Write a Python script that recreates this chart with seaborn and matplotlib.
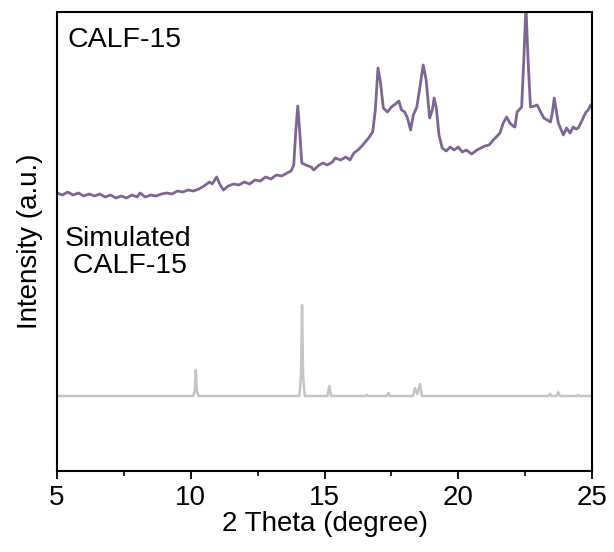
import matplotlib
matplotlib.use("Agg")
import matplotlib.pyplot as plt
from matplotlib.ticker import MultipleLocator
import seaborn as sns
import pandas as pd

# Experimental CALF-15 pattern (2theta in degree, intensity in a.u.)
exp_x = [5.0, 5.2, 5.4, 5.6, 5.8, 6.0, 6.2, 6.4, 6.6, 6.8, 7.0, 7.2, 7.4, 7.6, 7.8,
         8.0, 8.1, 8.3, 8.5, 8.7, 8.9, 9.1, 9.3, 9.5, 9.7, 9.9, 10.1, 10.3, 10.5, 10.7,
         10.8, 10.97, 11.1, 11.22, 11.4, 11.6, 11.8, 12.0, 12.2, 12.4, 12.6, 12.8, 13.0,
         13.2, 13.4, 13.6, 13.75, 13.85, 13.93, 14.0, 14.07, 14.15, 14.3, 14.5, 14.6,
         14.8, 14.95, 15.1, 15.3, 15.4, 15.6, 15.8, 15.95, 16.1, 16.25, 16.4, 16.55,
         16.65, 16.8, 16.9, 17.0, 17.08, 17.2, 17.35, 17.5, 17.65, 17.78, 17.88, 18.0,
         18.1, 18.22, 18.32, 18.45, 18.58, 18.69, 18.8, 18.93, 19.03, 19.1, 19.18, 19.28,
         19.4, 19.55, 19.7, 19.85, 20.0, 20.15, 20.3, 20.5, 20.7, 20.85, 21.0, 21.15,
         21.31, 21.45, 21.56, 21.68, 21.81, 21.93, 22.05, 22.12, 22.2, 22.37, 22.45,
         22.53, 22.61, 22.7, 22.85, 22.95, 23.08, 23.2, 23.32, 23.45, 23.52, 23.59,
         23.66, 23.74, 23.85, 23.93, 24.05, 24.18, 24.3, 24.4, 24.49, 24.6, 24.7, 24.78,
         24.86, 24.95, 25.0]
exp_y = [278, 276, 279, 276, 278, 275, 277, 275, 277, 274, 276, 273, 275, 273, 276,
         274, 278, 274, 276, 275, 277, 278, 277, 280, 279, 281, 280, 282, 285, 289,
         287, 294, 286, 281, 285, 287, 286, 289, 287, 291, 290, 294, 292,
         296, 295, 298, 300, 306, 341, 365, 341, 308, 306, 304, 301,
         306, 308, 306, 309, 313, 311, 314, 311, 318, 321, 325, 330,
         333, 339, 361, 403, 391, 363, 359, 364, 367, 370, 361, 359,
         353, 341, 356, 364, 386, 406, 391, 353, 361, 373, 363, 336,
         323, 320, 324, 321, 324, 319, 321, 317, 321, 323, 325, 326,
         331, 335, 338, 348, 354, 348, 345, 344, 359, 364, 411,
         466, 411, 364, 365, 366, 359, 353, 351, 349, 359, 373,
         361, 348, 341, 336, 343, 338, 344, 342, 343, 349, 355, 359,
         361, 366, 367]

# Simulated CALF-15 pattern
sim_x = [5.0, 10.09, 10.15, 10.19, 10.23, 10.29, 14.06, 14.12, 14.16, 14.20, 14.26,
         15.11, 15.18, 15.25, 16.53, 16.58, 16.63, 17.33, 17.39, 17.45, 18.31, 18.38,
         18.47, 18.57, 18.64, 23.37, 23.43, 23.49, 23.67, 23.74, 23.80, 24.43, 24.48,
         24.53, 25.0]
sim_y = [75, 75, 80, 101, 80, 75, 75, 95, 166, 95, 75,
         75, 85, 75, 75, 76, 75, 75, 78, 75, 75, 83,
         77, 87, 75, 75, 77, 75, 75, 79, 75, 75, 76,
         75, 75]

xticks = [5, 10, 15, 20, 25]

sns.set_theme(style="ticks")
plt.rcParams['font.family'] = ['Liberation Sans', 'DejaVu Sans']
plt.rcParams['text.color'] = 'black'
plt.rcParams['axes.labelcolor'] = 'black'
plt.rcParams['xtick.color'] = 'black'
plt.rcParams['ytick.color'] = 'black'

fig = plt.figure(figsize=(6.14, 5.52), dpi=100)
ax = fig.add_axes([57/614, 1 - 471/552, 535/614, 459/552])

exp_df = pd.DataFrame({"x": exp_x, "y": exp_y})
sim_df = pd.DataFrame({"x": sim_x, "y": sim_y})

sns.lineplot(data=sim_df, x="x", y="y", ax=ax, color="#c4c4c4", lw=1.8,
             estimator=None, sort=False)
sns.lineplot(data=exp_df, x="x", y="y", ax=ax, color="#7d6694", lw=2.0,
             estimator=None, sort=False)

ax.set_xlim(5, 25)
ax.set_ylim(0, 459)
ax.set_xticks(xticks)
ax.set_xticklabels([str(t) for t in xticks])
ax.xaxis.set_minor_locator(MultipleLocator(2.5))
ax.set_yticks([])
ax.tick_params(axis='x', which='major', direction='out', length=6, width=1.3,
               labelsize=20, pad=4, colors='black')
ax.tick_params(axis='x', which='minor', direction='out', length=3.5, width=1.2,
               colors='black')
for s in ax.spines.values():
    s.set_linewidth(1.5)
    s.set_color('black')

ax.set_xlabel("2 Theta (degree)", fontsize=20, labelpad=0, color='black')
ax.set_ylabel("Intensity (a.u.)", fontsize=20, labelpad=10, color='black')

ax.text(0.02, 0.94, "CALF-15", transform=ax.transAxes, fontsize=20.5,
        va='center', ha='left', color='black')
ax.text(0.015, 0.475, "Simulated\n CALF-15", transform=ax.transAxes, fontsize=20.5,
        va='center', ha='left', linespacing=1.05, color='black')

fig.savefig("out.png", dpi=100)
